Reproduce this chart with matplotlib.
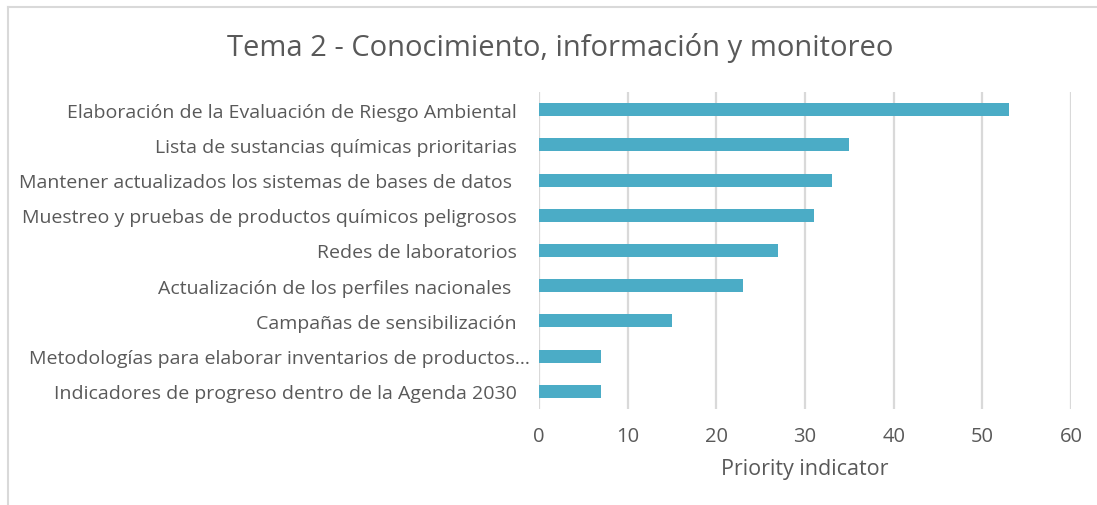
import matplotlib.pyplot as plt
from matplotlib.lines import Line2D
from matplotlib.transforms import ScaledTranslation

categories = [
    "Elaboración de la Evaluación de Riesgo Ambiental",
    "Lista de sustancias químicas prioritarias",
    "Mantener actualizados los sistemas de bases de datos ",
    "Muestreo y pruebas de productos químicos peligrosos",
    "Redes de laboratorios",
    "Actualización de los perfiles nacionales ",
    "Campañas de sensibilización",
    "Metodologías para elaborar inventarios de productos...",
    "Indicadores de progreso dentro de la Agenda 2030",
]
values = [53, 35, 33, 31, 27, 23, 15, 7, 7]
xticks = [0, 10, 20, 30, 40, 50, 60]

BAR = "#4bacc6"
GRID = "#d9d9d9"
TEXT = "#595959"

plt.rcParams["font.family"] = ["Open Sans", "DejaVu Sans"]

fig = plt.figure(figsize=(10.97, 5.06), dpi=100)
ax = fig.add_axes([539 / 1097, 96 / 506, 532 / 1097, 317 / 506])

pos = list(range(len(categories)))
ax.barh(pos, values, height=0.37, color=BAR, zorder=3)
ax.set_ylim(len(categories) - 0.5, -0.5)
ax.set_yticks(pos)
ax.set_yticklabels(categories, fontsize=14, color=TEXT)
ax.set_xlim(0, 60)
ax.set_xticks(xticks)
ax.set_xticklabels([str(t) for t in xticks], fontsize=14.5, color=TEXT)
ax.tick_params(axis="y", length=0, pad=16)
ax.tick_params(axis="x", length=0, pad=12)
ax.grid(axis="x", color=GRID, linewidth=1.6, zorder=0)
for s in ax.spines.values():
    s.set_visible(False)
ax.set_xlabel("Priority indicator", fontsize=15.5, color=TEXT, labelpad=9)

# the truncated label runs a bit past the others, like Excel's ellipsis
lab = ax.get_yticklabels()[7]
lab.set_transform(lab.get_transform() + ScaledTranslation(0.13, 0, fig.dpi_scale_trans))

fig.text(560 / 1097, 1 - 48 / 506, "Tema 2 - Conocimiento, información y monitoreo",
         ha="center", va="center", fontsize=21, color=TEXT)

# chart frame (only left and top edges visible in the crop)
fig.add_artist(Line2D([7.5 / 1097, 7.5 / 1097], [0, 1 - 8 / 506], color=GRID, linewidth=1.5))
fig.add_artist(Line2D([7.5 / 1097, 1], [1 - 8 / 506, 1 - 8 / 506], color=GRID, linewidth=1.5))

fig.savefig("out.png", dpi=100)
